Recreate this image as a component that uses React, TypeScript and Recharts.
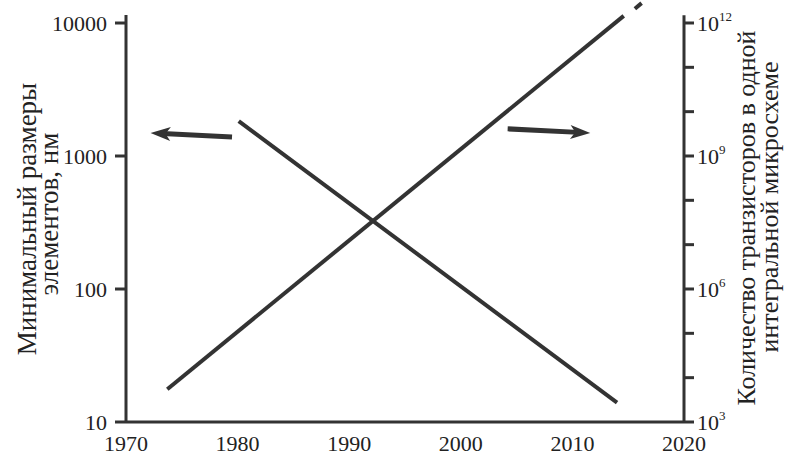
import { LineChart, Line, XAxis, YAxis, ReferenceLine } from 'recharts';

// feature size (nm), left axis
const sizeYears = [1980.1, 2014.0];
const sizeNm = [1830, 14];

// transistors per chip, right axis
const transYears = [1973.7, 2014.6];
const transCount = [5.5e3, 1.45e12];

// short dashed continuation past the top
const trendYears = [2015.6, 2016.2];
const trendCount = [2.1e12, 2.8e12];

const yearTicks = [1970, 1980, 1990, 2000, 2010, 2020];
const nmTicks = [10, 100, 1000, 10000];
const countTicks = [1e3, 1e4, 1e5, 1e6, 1e7, 1e8, 1e9, 1e10, 1e11, 1e12];

// annotation arrows (from, to) in year / nm
const leftArrow = [{ x: 1979.5, y: 1390 }, { x: 1972.2, y: 1490 }];
const rightArrow = [{ x: 2004.2, y: 1600 }, { x: 2011.6, y: 1490 }];

const sizeData = sizeYears.map((year, i) => ({ year, value: sizeNm[i] }));
const transData = transYears.map((year, i) => ({ year, value: transCount[i] }));
const trendData = trendYears.map((year, i) => ({ year, value: trendCount[i] }));

const INK = '#333';
const FONT = '"Liberation Serif", serif';
const txt = { fontFamily: FONT, fill: '#222' };

function LeftTick({ x, y, payload }: any) {
    return (
        <text x={x} y={y + 7.5} textAnchor="end" fontSize={22} style={txt}>
            {payload.value}
        </text>
    );
}

function RightTick({ x, y, payload }: any) {
    const exp = Math.round(Math.log10(payload.value));
    if (exp % 3 !== 0) return null;
    return (
        <text x={x} y={y + 8} textAnchor="start" fontSize={22} style={txt}>
            10
            <tspan dy={-10} fontSize={13}>{exp}</tspan>
        </text>
    );
}

function YearTick({ x, y, payload }: any) {
    return (
        <text x={x} y={y + 29} textAnchor="middle" fontSize={22} style={txt}>
            {payload.value}
        </text>
    );
}

function Arrow(props: any) {
    const { x1, y1, x2, y2 } = props;
    const dx = x2 - x1;
    const dy = y2 - y1;
    const len = Math.sqrt(dx * dx + dy * dy);
    const ux = dx / len;
    const uy = dy / len;
    const headLen = 20;
    const half = 7;
    const bx = x2 - ux * headLen;
    const by = y2 - uy * headLen;
    const pts = [
        `${x2},${y2}`,
        `${bx - uy * half},${by + ux * half}`,
        `${x2 - ux * (headLen - 5)},${y2 - uy * (headLen - 5)}`,
        `${bx + uy * half},${by - ux * half}`,
    ].join(' ');
    return (
        <g>
            <line x1={x1} y1={y1} x2={x2 - ux * 12} y2={y2 - uy * 12} stroke={INK} strokeWidth={5} />
            <polygon points={pts} fill={INK} />
        </g>
    );
}

// vertical titles, rotated to read bottom-to-top
function VTitle({ x, y, text, size }: { x: number; y: number; text: string; size: number }) {
    return (
        <text x={x} y={y} transform={`rotate(-90 ${x} ${y})`} textAnchor="middle" fontSize={size} style={txt}>
            {text}
        </text>
    );
}

function LeftTitle() {
    return (
        <g>
            <VTitle x={36} y={219} size={27} text="Минимальный размеры" />
            <VTitle x={58} y={214} size={27} text="элементов, нм" />
        </g>
    );
}

function RightTitle() {
    return (
        <g>
            <VTitle x={755} y={218} size={26} text="Количество транзисторов в одной" />
            <VTitle x={778} y={207} size={26} text="интегральной микросхеме" />
        </g>
    );
}

export default function App() {
    return (
        <div style={{ position: 'absolute', left: 0, top: 0, width: 790, height: 456, background: '#fff' }}>
            <LineChart width={790} height={456} margin={{ top: 0, right: 46, bottom: 0, left: 66 }}>
                <XAxis
                    dataKey="year"
                    type="number"
                    domain={[1970, 2020]}
                    ticks={yearTicks}
                    allowDataOverflow
                    height={34}
                    tickLine={false}
                    tickSize={0}
                    tickMargin={0}
                    axisLine={{ stroke: INK, strokeWidth: 3 }}
                    tick={<YearTick />}
                />
                <YAxis
                    yAxisId="left"
                    scale="log"
                    domain={[10, 14893]}
                    ticks={nmTicks}
                    allowDataOverflow
                    width={60}
                    axisLine={false}
                    tickSize={11}
                    tickMargin={8}
                    tickLine={{ stroke: INK, strokeWidth: 3 }}
                    tick={<LeftTick />}
                    label={{ content: () => <LeftTitle /> }}
                />
                <YAxis
                    yAxisId="right"
                    orientation="right"
                    scale="log"
                    domain={[1e3, 3.3e12]}
                    ticks={countTicks}
                    allowDataOverflow
                    width={60}
                    axisLine={false}
                    tickSize={10}
                    tickMargin={3}
                    tickLine={{ stroke: INK, strokeWidth: 3 }}
                    tick={<RightTick />}
                    label={{ content: () => <RightTitle /> }}
                />
                <ReferenceLine
                    yAxisId="left"
                    segment={[{ x: 1970, y: 10 }, { x: 1970, y: 11480 }]}
                    stroke={INK}
                    strokeWidth={3}
                    ifOverflow="visible"
                />
                <ReferenceLine
                    yAxisId="right"
                    segment={[{ x: 2020, y: 1e3 }, { x: 2020, y: 1.5e12 }]}
                    stroke={INK}
                    strokeWidth={3}
                    ifOverflow="visible"
                />
                <ReferenceLine yAxisId="left" segment={leftArrow} shape={<Arrow />} ifOverflow="visible" />
                <ReferenceLine yAxisId="left" segment={rightArrow} shape={<Arrow />} ifOverflow="visible" />
                <Line
                    yAxisId="left"
                    data={sizeData}
                    dataKey="value"
                    stroke={INK}
                    strokeWidth={4}
                    dot={false}
                    activeDot={false}
                    isAnimationActive={false}
                />
                <Line
                    yAxisId="right"
                    data={transData}
                    dataKey="value"
                    stroke={INK}
                    strokeWidth={4}
                    dot={false}
                    activeDot={false}
                    isAnimationActive={false}
                />
                <Line
                    yAxisId="right"
                    data={trendData}
                    dataKey="value"
                    stroke={INK}
                    strokeWidth={4}
                    dot={false}
                    activeDot={false}
                    isAnimationActive={false}
                />
            </LineChart>
        </div>
    );
}
